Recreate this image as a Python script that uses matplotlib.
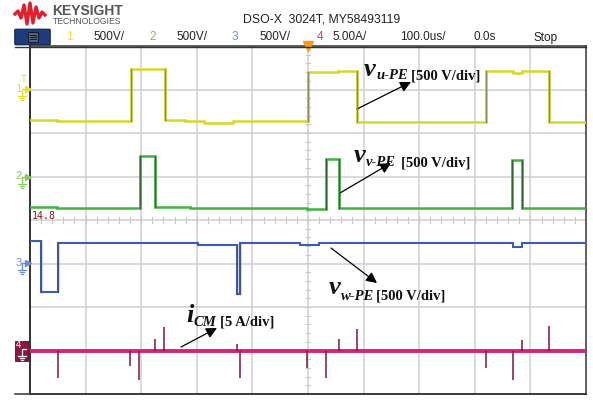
import numpy as np
import matplotlib
matplotlib.use('Agg')
import matplotlib.pyplot as plt
from matplotlib.lines import Line2D
from matplotlib.patches import FancyBboxPatch, Rectangle

W, H = 593, 401

# scope settings (header)
ch_scales = ['500V/', '500V/', '500V/', '5.00A/']
timebase = '100.0us/'
delay = '0.0s'
run_state = 'Stop'
model = 'DSO-X  3024T, MY58493119'

# ground positions of channels (divisions from centre) and scale per div
ch_offsets = [3.0, 1.0, -1.0, -3.0]
ch_per_div = [500.0, 500.0, 500.0, 5.0]

# ch1 v_u-PE (us, V), step-post
t1 = [-500, -452, -318, -257, -221, -187, -135, 0, 54, 89, 320, 368, 385, 434, 500]
v1 = [-347, -364, 230, -347, -364, -387, -364, 205, 218, -368, 210, 187, 210, -372, -372]
# ch2 v_v-PE
t2 = [-500, -452, -303, -275, -212, -2, 32, 56, 367, 384, 500]
v2 = [-345, -363, 230, -345, -363, -375, 203, -363, 192, -363, -363]
# ch3 v_w-PE
t3 = [-500, -480, -450, -198, -127, -122, -14, 20, 368, 385, 500]
v3 = [256, -326, 237, 218, -353, 237, 215, 230, 191, 230, 230]
# ch4 i_CM spikes (us, A)
t4_spk = [-450, -320, -304, -275, -259, -128, -122, -1, 32, 56, 89, 320, 368, 384, 433]
i4_spk = [-3.15, -1.8, -3.4, 1.33, 2.7, 0.76, -3.2, -2.0, -3.2, 1.3, 2.5, -2.0, -3.4, 1.15, 2.8]

c_yel, c_grn, c_blu, c_mag = '#d6d630', '#3fb23f', '#3a5fb0', '#d2237f'
edge_cols = ['#8a8a4a', '#2a6a2a', '#44557a', '#7a1448']

fig = plt.figure(figsize=(W / 100, H / 100), dpi=100)
fig.patch.set_facecolor('white')


def P(x, y):
    return (x / W, 1 - y / H)


def ftext(x, y, s, **kw):
    fig.text(x / W, 1 - y / H, s, **kw)


def fline(xs, ys, **kw):
    fig.add_artist(Line2D([x / W for x in xs], [1 - y / H for y in ys],
                          transform=fig.transFigure, **kw))


ax = fig.add_axes([30 / W, 7 / H, 556 / W, 348 / H])
ax.set_xlim(-500, 500)
ax.set_ylim(-4, 4)
ax.set_xticks([])
ax.set_yticks([])

# graticule
for k in range(-4, 5):
    ax.axvline(k * 100, color='#cfcfcf', lw=1.1, zorder=0)
for k in range(-3, 4):
    ax.axhline(k, color='#cfcfcf', lw=1.1, zorder=0)
for yy in np.arange(-4, 4.01, 0.2):
    ax.plot([-4, 4], [yy, yy], color='#c8c8c8', lw=0.8, zorder=0)
for xx in np.arange(-500, 501, 20):
    ax.plot([xx, xx], [-0.06, 0.06], color='#c8c8c8', lw=0.8, zorder=0)

ax.spines['left'].set_color('#222222')
ax.spines['left'].set_linewidth(1.3)
for sp in ['right', 'bottom', 'top']:
    ax.spines[sp].set_color('#333333')
    ax.spines[sp].set_linewidth(1.1)


def draw_step(t, v, ch, col, ecol, lw):
    y = np.array(v) / ch_per_div[ch] + ch_offsets[ch]
    ax.plot(t, y, drawstyle='steps-post', color=col, lw=lw, zorder=3,
            solid_joinstyle='miter')
    # darker vertical edges like the scope's persistence
    for i in range(1, len(t) - 1):
        if abs(y[i] - y[i - 1]) > 0.3:
            ax.plot([t[i], t[i]], [y[i - 1], y[i]], color=ecol, lw=1.0, zorder=4)


draw_step(t1, v1, 0, c_yel, edge_cols[0], 1.8)
draw_step(t2, v2, 1, c_grn, edge_cols[1], 1.8)
draw_step(t3, v3, 2, c_blu, edge_cols[2], 1.5)

# ch4 baseline + spikes
ax.plot([-500, 500], [ch_offsets[3]] * 2, color=c_mag, lw=2.8, zorder=3)
ax.vlines(t4_spk, ch_offsets[3], np.array(i4_spk) / ch_per_div[3] + ch_offsets[3],
          color=edge_cols[3], lw=1.1, zorder=4)

# trigger marker
ax.plot([0], [4.0], marker='v', color='#f39a1e', ms=7, clip_on=False, zorder=6)

# frame extension lines
fline([15, 586], [47, 47], color='#333333', lw=1.0)
fline([15, 586], [393.5, 393.5], color='#333333', lw=1.1)

# header: logo
logo_x = [15, 18, 21, 24, 27, 30, 33, 36, 39, 42, 45]
logo_y = [14, 11, 18, 5, 24, 3, 23, 7, 18, 12, 15]
fline(logo_x, logo_y, color='#e0202c', lw=2.4, solid_joinstyle='round')
ftext(52, 11, 'KEYSIGHT', fontsize=10, fontweight='bold', color='#555555',
      family='Liberation Sans', va='center')
ftext(53, 21.5, 'TECHNOLOGIES', fontsize=6.2, color='#555555',
      family='Liberation Sans', va='center')
ftext(243, 19, model, fontsize=8.8, color='#222222', family='Liberation Sans', va='center')

# menu button
fig.add_artist(FancyBboxPatch(P(16, 44), 33 / W, 14 / H, boxstyle='round,pad=0.002',
                              transform=fig.transFigure, facecolor='#1e3c7c',
                              edgecolor='#0d1f4a', lw=0.8))
fig.add_artist(Rectangle(P(28, 42), 10 / W, 10 / H, transform=fig.transFigure,
                         facecolor='#56627a', edgecolor='#0a0f20', lw=0.6))
for yy in [35, 37, 39]:
    fline([30, 36], [yy, yy], color='#0a0f20', lw=0.6)

hdr_y = 37.5
hdr = dict(fontsize=8.5, family='Liberation Sans', va='center')
ftext(66, hdr_y, '1', color='#e6e628', **hdr)
ftext(93, hdr_y, ch_scales[0], color='#222222', **hdr)
ftext(149, hdr_y, '2', color='#7cc04c', **hdr)
ftext(176, hdr_y, ch_scales[1], color='#222222', **hdr)
ftext(232, hdr_y, '3', color='#6c8bd0', **hdr)
ftext(259, hdr_y, ch_scales[2], color='#222222', **hdr)
ftext(317, hdr_y, '4', color='#e0308a', **hdr)
ftext(332, hdr_y, ch_scales[3], color='#222222', **hdr)
ftext(400, hdr_y, timebase, color='#222222', **hdr)
ftext(474, hdr_y, delay, color='#222222', **hdr)
ftext(533, hdr_y, run_state, color='#222222', **hdr)


# channel ground markers
def gnd_marker(y, num, col):
    ftext(18.5, y - 0.5, num, fontsize=8, color=col, family='Liberation Sans',
          va='center', ha='center')
    fline([22, 22, 26], [y + 7, y, y], color=col, lw=1.0)
    fig.add_artist(Line2D([28 / W], [1 - y / H], marker='>', ms=4.5, color=col,
                          transform=fig.transFigure))
    fline([18, 26], [y + 7, y + 7], color=col, lw=0.9)
    fline([19.5, 24.5], [y + 9, y + 9], color=col, lw=0.9)
    fline([21, 23], [y + 11, y + 11], color=col, lw=0.9)


gnd_marker(89.3, '1', '#e0e030')
ftext(23.5, 80, 'T', fontsize=7, color='#e0e030', family='Liberation Sans', va='center', ha='center')
gnd_marker(176.7, '2', '#8cc860')
gnd_marker(263.3, '3', '#6c8bd0')
fig.add_artist(Rectangle(P(15, 361), 13 / W, 20 / H, transform=fig.transFigure,
                         facecolor='#8c1640', edgecolor='#5a0a28', lw=0.6, zorder=5))
ftext(18.5, 345, '4', fontsize=7, color='white', family='Liberation Sans', va='center',
      ha='center', zorder=6)
for xs, ys in [([22, 22, 26], [356, 349.3, 349.3]), ([18, 26], [356, 356]),
               ([19.5, 24.5], [358, 358]), ([21, 23], [360, 360])]:
    fline(xs, ys, color='white', lw=0.9, zorder=6)

ftext(32, 216, '14.8', fontsize=7.2, color='#8a1a1a', family='DejaVu Sans Mono', va='center')

# annotations
serif = 'Liberation Serif'


def label(xv, yv, sub, xs, ys, xb, yb, big=19):
    ftext(xv, yv, sub[0], fontsize=big, fontweight='bold', style='italic', family=serif,
          va='baseline', color='#111111')
    ftext(xs, ys, sub[1], fontsize=10.5, fontweight='bold', style='italic', family=serif,
          va='baseline', color='#111111')
    ftext(xb, yb, sub[2], fontsize=10.5, fontweight='bold', family=serif,
          va='baseline', color='#111111')


def arrow(x0, y0, x1, y1):
    ax.annotate('', xy=P(x1, y1), xytext=P(x0, y0), xycoords='figure fraction',
                textcoords='figure fraction',
                arrowprops=dict(arrowstyle='-|>', color='black', lw=0.9,
                                mutation_scale=16, shrinkA=0, shrinkB=0))


label(364, 76, ('v', 'u-PE', '[500 V/div]'), 376, 79, 411, 79.5)
arrow(357, 109, 411, 82)
label(354, 162.5, ('v', 'v-PE', '[500 V/div]'), 366, 166.5, 401, 166.5)
arrow(340, 193, 391, 163)
label(329, 294, ('v', 'w-PE', '[500 V/div]'), 341, 300, 376, 300)
arrow(331, 248, 377, 283)
label(186, 322.5, ('i', 'CM', '[5 A/div]'), 194, 325.5, 220, 326)
arrow(181, 347, 217, 328)

fig.savefig('out.png', dpi=100, facecolor='white')
